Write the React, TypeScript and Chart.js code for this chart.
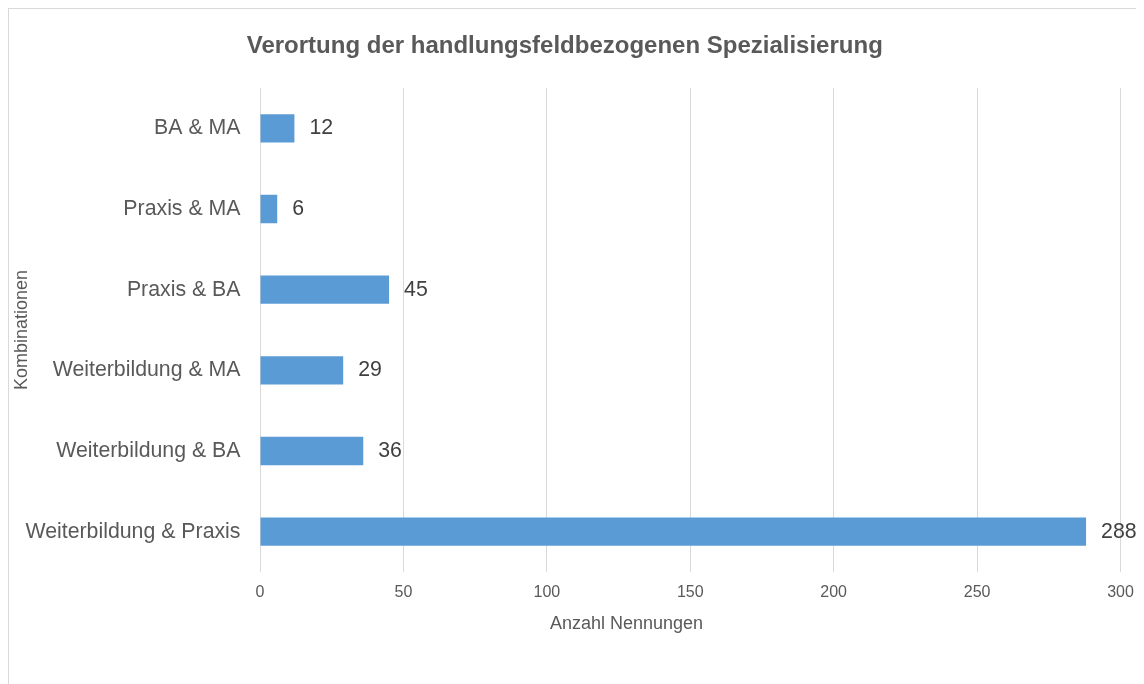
import React, { useEffect, useRef } from "react";
import { Chart, registerables } from "chart.js";

Chart.register(...registerables);

const categories = [
  "BA & MA",
  "Praxis & MA",
  "Praxis & BA",
  "Weiterbildung & MA",
  "Weiterbildung & BA",
  "Weiterbildung & Praxis",
];
const values = [12, 6, 45, 29, 36, 288];
const chartTitle = "Verortung der handlungsfeldbezogenen Spezialisierung";
const xTitle = "Anzahl Nennungen";
const yTitle = "Kombinationen";
const xMin = 0;
const xMax = 300;
const xStep = 50;

const FONT = "'Liberation Sans', Arial, sans-serif";

export default function App() {
  const ref = useRef<HTMLCanvasElement | null>(null);

  useEffect(() => {
    if (!ref.current) return;

    const dataLabels = {
      id: "dataLabels",
      afterDatasetsDraw(chart: any) {
        const ctx = chart.ctx;
        const meta = chart.getDatasetMeta(0);
        ctx.save();
        ctx.font = `21.3px ${FONT}`;
        ctx.fillStyle = "#404040";
        ctx.textAlign = "left";
        ctx.textBaseline = "middle";
        meta.data.forEach((bar: any, i: number) => {
          ctx.fillText(String(values[i]), bar.x + 15, bar.y);
        });
        ctx.restore();
      },
    };

    const xTitlePlugin = {
      id: "xTitlePlugin",
      afterDraw(chart: any) {
        const { ctx, chartArea } = chart;
        ctx.save();
        ctx.font = `18px ${FONT}`;
        ctx.fillStyle = "#595959";
        ctx.textAlign = "center";
        ctx.textBaseline = "middle";
        const x = chartArea.left + 0.426 * (chartArea.right - chartArea.left);
        ctx.fillText(xTitle, x, chartArea.bottom + 52.5);
        ctx.restore();
      },
    };

    const chart = new Chart(ref.current, {
      type: "bar",
      data: {
        labels: categories,
        datasets: [
          {
            data: values,
            backgroundColor: "#5B9BD5",
            borderWidth: 0,
            barPercentage: 0.352,
            categoryPercentage: 1,
          },
        ],
      },
      options: {
        indexAxis: "y",
        responsive: false,
        animation: false,
        devicePixelRatio: 1,
        layout: {
          padding: { left: 0, right: 34.5, top: 0, bottom: 81.8 },
        },
        plugins: {
          legend: { display: false },
          tooltip: { enabled: false },
          title: {
            display: true,
            text: chartTitle,
            color: "#595959",
            font: { family: FONT, size: 24, weight: "bold" },
            padding: { top: 22.6, bottom: 27.6 },
          },
        },
        scales: {
          x: {
            min: xMin,
            max: xMax,
            border: { display: false },
            grid: {
              color: "#d9d9d9",
              lineWidth: 1,
              drawTicks: false,
            },
            ticks: {
              stepSize: xStep,
              color: "#595959",
              padding: 11,
              font: { family: FONT, size: 16 },
            },
          },
          y: {
            border: { display: false },
            grid: { display: false, drawTicks: false },
            afterFit(scale: any) {
              scale.width = 251;
            },
            ticks: {
              color: "#595959",
              padding: 19.5,
              font: { family: FONT, size: 21.3 },
            },
            title: {
              display: true,
              text: yTitle,
              color: "#595959",
              font: { family: FONT, size: 18 },
              padding: { top: 2.7, bottom: 0 },
            },
          },
        },
      },
      plugins: [dataLabels, xTitlePlugin],
    });

    return () => chart.destroy();
  }, []);

  return (
    <div
      style={{
        position: "relative",
        width: 1136,
        height: 676,
        boxSizing: "border-box",
        borderLeft: "1px solid #d9d9d9",
        borderTop: "1px solid #d9d9d9",
        overflow: "hidden",
        background: "#ffffff",
      }}
    >
      <canvas
        ref={ref}
        width={1146}
        height={686}
        style={{ position: "absolute", left: 0, top: 0, display: "block" }}
      />
    </div>
  );
}
